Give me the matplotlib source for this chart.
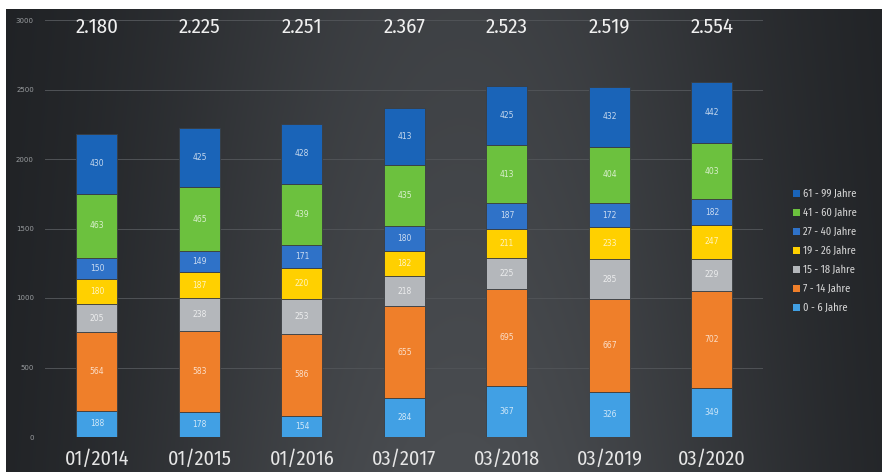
import numpy as np
import matplotlib.pyplot as plt
import matplotlib.font_manager as fm

# data
dates = ['01/2014', '01/2015', '01/2016', '03/2017', '03/2018', '03/2019', '03/2020']
groups = ['0 - 6 Jahre', '7 - 14 Jahre', '15 - 18 Jahre', '19 - 26 Jahre',
          '27 - 40 Jahre', '41 - 60 Jahre', '61 - 99 Jahre']
age_0_6 = [188, 178, 154, 284, 367, 326, 349]
age_7_14 = [564, 583, 586, 655, 695, 667, 702]
age_15_18 = [205, 238, 253, 218, 225, 285, 229]
age_19_26 = [180, 187, 220, 182, 211, 233, 247]
age_27_40 = [150, 149, 171, 180, 187, 172, 182]
age_41_60 = [463, 465, 439, 435, 413, 404, 403]
age_61_99 = [430, 425, 428, 413, 425, 432, 442]
totals = [2180, 2225, 2251, 2367, 2523, 2519, 2554]
yticks = [0, 500, 1000, 1500, 2000, 2500, 3000]

series = [age_0_6, age_7_14, age_15_18, age_19_26, age_27_40, age_41_60, age_61_99]
colors = ['#41a0e4', '#ef7f2a', '#b4b7bb', '#ffd000', '#2f72c8', '#6cc13e', '#1a64b8']

# pick a narrow font that has a regular weight
regular = {f.name for f in fm.fontManager.ttflist if f.weight in (300, 400, 'normal', 'light')
           and f.style == 'normal'}
big_font = 'Open Sans'
for cand in ['Fira Sans Condensed', 'Ubuntu Condensed', 'Encode Sans Condensed',
             'Roboto Condensed', 'PT Sans Narrow', 'Sofia Sans Condensed',
             'Archivo Narrow', 'Liberation Sans Narrow', 'Asap Condensed',
             'Barlow Semi Condensed', 'Open Sans Condensed']:
    if cand in regular:
        big_font = cand
        break

fig = plt.figure(figsize=(8.82, 4.72), dpi=100, facecolor='white')

# dark gradient panel
bg = fig.add_axes([6/882, 0, 1 - 6/882, 1 - 9/472], zorder=0)
xx = np.linspace(0, 1, 400)
yy = np.linspace(0, 1, 200)
X, Y = np.meshgrid(xx, yy)
v = np.exp(-((X - 0.52) / 0.38) ** 2) * (0.75 + 0.25 * Y)
c0 = np.array([0x1b, 0x1d, 0x20]) / 255
c1 = np.array([0x4a, 0x4d, 0x51]) / 255
img = c0[None, None, :] + (c1 - c0)[None, None, :] * v[:, :, None]
bg.imshow(img, aspect='auto', origin='upper', extent=[0, 1, 0, 1])
bg.axis('off')

ax = fig.add_axes([45/882, 35/472, 718/882, 417/472], zorder=1)
ax.patch.set_alpha(0)
x = np.arange(len(dates))
bottom = np.zeros(len(dates))
for vals, col, name in zip(series, colors, groups):
    ax.bar(x, vals, 0.4, bottom=bottom, color=col, edgecolor='#3a3d41',
           linewidth=0.6, label=name, zorder=3)
    for xi, b, val in zip(x, bottom, vals):
        ax.text(xi, b + val / 2, str(val), ha='center', va='center',
                fontsize=5.5, color='white', alpha=0.75, zorder=4)
    bottom += np.array(vals)

for xi, t in zip(x, totals):
    ax.text(xi, 2950, f'{t:,}'.replace(',', '.'), ha='center', va='center',
            fontsize=15, color='#f0f0f0', family=big_font,
            zorder=4, clip_on=False)

ax.set_xlim(-0.507, 6.498)
ax.set_ylim(0, 3000)
ax.set_yticks(yticks)
ax.set_yticklabels([str(t) for t in yticks], fontsize=5, color='#9a9da0')
ax.set_xticks(x)
ax.set_xticklabels(dates, fontsize=14.5, color='#e6e6e6', family=big_font)
ax.tick_params(axis='x', length=0, pad=9)
ax.tick_params(axis='y', length=0, pad=8)
ax.grid(axis='y', color='#505357', linewidth=0.7, zorder=1)
for s in ax.spines.values():
    s.set_visible(False)

h, l = ax.get_legend_handles_labels()
leg = ax.legend(h[::-1], l[::-1], loc='center left', bbox_to_anchor=(1.035, 0.446),
                frameon=False, handlelength=0.6, handleheight=0.6,
                handletextpad=0.3, labelspacing=0.8, borderpad=0,
                prop={'family': big_font, 'size': 7.5})
for t in leg.get_texts():
    t.set_color('#d8d8d8')
for p in leg.get_patches():
    p.set_edgecolor('none')

fig.savefig('out.png', dpi=100, facecolor='white')
